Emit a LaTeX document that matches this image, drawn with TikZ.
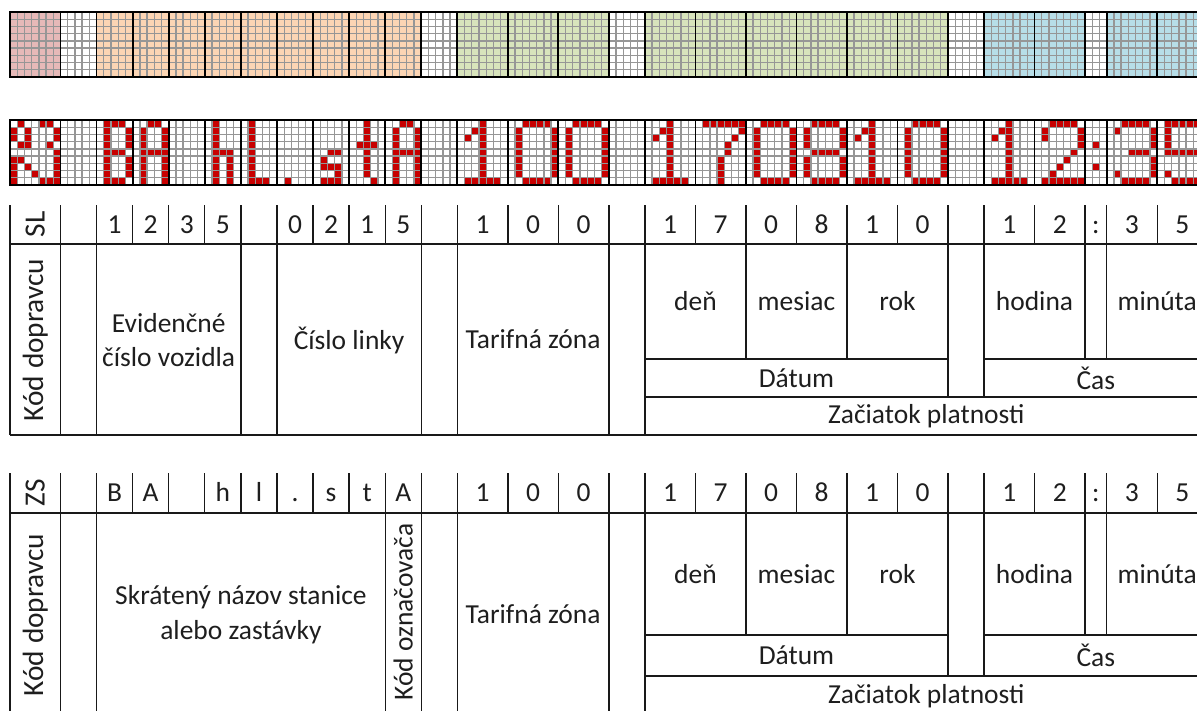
\documentclass[tikz,border=0pt]{standalone}
\usepackage{fontspec}
\setmainfont{Carlito}
\usepackage{tikz}
\definecolor{pinkFill}{RGB}{230,185,184}
\definecolor{orangeFill}{RGB}{252,213,180}
\definecolor{greenFill}{RGB}{216,228,188}
\definecolor{blueFill}{RGB}{183,222,232}
\definecolor{ledRed}{RGB}{200,0,0}
\definecolor{pixGray}{RGB}{150,150,150}
\definecolor{textGray}{RGB}{30,30,30}

\tikzset{
	pixLine/.style={draw=pixGray, line width=1pt},
	blockLine/.style={draw=black, line width=1.3pt},
	frameLine/.style={draw=black, line width=1.9pt},
	tableLine/.style={draw=black!90, line width=1pt},
	cellText/.style={font=\fontsize{20.6}{26}\selectfont, text=textGray, align=center, inner sep=0pt},
	headText/.style={cellText, text height=13pt, text depth=0pt},
	sideText/.style={font=\fontsize{22}{26}\selectfont, text=textGray, rotate=90, inner sep=0pt}
}

% Bloecke der Anzeige (Spaltenindex)
\def\blockCols{7,12,17,22,27,32,37,42,47,52,57,62,69,76,83,88,95,102,109,116,123,130,135,142,149,152,159}

% LED-Zeichen: je Zeile ein String, X = rotes Pixel, o = aus
\newcount\ledcol
\def\ledscan#1{%
	\ifx#1\relax\else
		\if#1X\fill[ledRed] (\the\ledcol,\ledrow) rectangle ++(1,1);\fi
		\advance\ledcol by 1
		\expandafter\ledscan
	\fi}
\newcommand\ledglyph[2]{%
	\foreach \bits [count=\rowIdx from 0] in #2 {%
		\ledcol=#1\relax
		\edef\ledrow{\rowIdx}%
		\expandafter\ledscan\bits\relax}}

\def\glyphKD{oXooXXo,XoXoooX,XoXoooX,oXXooXo,ooooooX,XXooooX,XoXoooX,XooXooX,XoooXXX}
\def\glyphB{oXXXo,oXooX,oXooX,oXooX,oXXXo,oXooX,oXooX,oXooX,oXXXo}
\def\glyphA{ooXXo,oXooX,oXooX,oXooX,oXXXX,oXooX,oXooX,oXooX,oXooX}
\def\glyphh{oXooo,oXooo,oXooo,oXooo,oXXXo,oXoXo,oXoXo,oXoXo,oXoXo}
\def\glyphl{oXooo,oXooo,oXooo,oXooo,oXooo,oXooo,oXooo,oXooo,oXXXo}
\def\glyphDot{ooooo,ooooo,ooooo,ooooo,ooooo,ooooo,ooooo,ooooo,oXooo}
\def\glyphs{ooooo,ooooo,ooooo,ooooo,ooXXo,oXooo,oXXXo,oooXo,oXXXo}
\def\glypht{ooXoo,ooXoo,ooXoo,oXXXo,ooXoo,ooXoo,ooXoo,ooXoo,oooXo}
\def\digitOne{oooXooo,ooXXooo,oXoXooo,oooXooo,oooXooo,oooXooo,oooXooo,oooXooo,oXXXXXo}
\def\digitZero{ooXXXXo,oXooooX,oXooooX,oXooooX,oXooooX,oXooooX,oXooooX,oXooooX,ooXXXXo}
\def\digitTwo{ooXXXXo,oXooooX,oXooooX,ooooooX,oooooXo,ooooXoo,oooXooo,ooXoooo,oXXXXXX}
\def\digitThree{ooXXXXo,oXooooX,ooooooX,ooooooX,oooXXXo,ooooooX,ooooooX,oXooooX,ooXXXXo}
\def\digitFive{oXXXXXX,oXooooo,oXooooo,oXooooo,oXXXXXo,ooooooX,ooooooX,oXooooX,ooXXXXo}
\def\digitSeven{oXXXXXX,ooooooX,oooooXo,ooooXoo,ooooXoo,oooXooo,oooXooo,oooXooo,oooXooo}
\def\digitEight{ooXXXXo,oXooooX,oXooooX,oXooooX,ooXXXXo,oXooooX,oXooooX,oXooooX,ooXXXXo}
\def\glyphColon{ooo,ooo,ooo,oXo,ooo,ooo,oXo,ooo,ooo}

% rechter Teil der Tabelle (Zone, Datum, Zeit): #1 Kopf, #2 Datum, #3 Beginn, #4 unten, #5 Kennung
\newcommand\dateTimeBody[5]{%
	\foreach \c in {83,88} \draw[tableLine] (\c,#1) -- (\c,#4);
	\foreach \c in {102,116,149,152} \draw[tableLine] (\c,#1) -- (\c,#2);
	\foreach \c in {130,135} \draw[tableLine] (\c,#1) -- (\c,#3);
	\draw[tableLine] (88,#2) -- (130,#2);
	\draw[tableLine] (135,#2) -- (166,#2);
	\draw[tableLine] (88,#3) -- (166,#3);
	\node[cellText] (zona#5) at (72.5,{(#1+#4)/2}) {Tarifná zóna};
	\node[cellText] (den#5) at (95,{(#1+#2)/2}) {deň};
	\node[cellText] (mesiac#5) at (109,{(#1+#2)/2}) {mesiac};
	\node[cellText] (rok#5) at (123,{(#1+#2)/2}) {rok};
	\node[cellText] (hodina#5) at (142,{(#1+#2)/2}) {hodina};
	\node[cellText] (minuta#5) at (159,{(#1+#2)/2}) {minúta};
	\node[cellText] (datum#5) at (109,{(#2+#3)/2}) {Dátum};
	\node[cellText] (cas#5) at (150.5,{(#2+#3)/2}) {Čas};
	\node[cellText] (zaciatok#5) at (127,{(#3+#4)/2}) {Začiatok platnosti};
}
% Kopfzeile rechts: #1 Mitte der Zeile, #2 Kennung
\newcommand\dateTimeHead[2]{%
	\foreach \c/\t [count=\i] in {65.5/1,72.5/0,79.5/0,91.5/1,98.5/7,105.5/0,112.5/8,119.5/1,126.5/0,138.5/1,145.5/2,150.5/:,155.5/3,162.5/5}
		\node[headText] (hd#2\i) at (\c,#1) {\t};
}

\begin{document}
\begin{tikzpicture}[x=0.75pt, y=-0.75pt]
	\useasboundingbox (0,0) rectangle (1197,711);
	\clip (0,0) rectangle (1197,711);

	% --- Belegung der Anzeige (farbig) ---
	\begin{scope}[shift={(10,12)}, x=5.41125pt, y=-5.41125pt]
		\fill[pinkFill] (0,0) rectangle (7,9);
		\fill[orangeFill] (12,0) rectangle (57,9);
		\fill[greenFill] (62,0) rectangle (83,9);
		\fill[greenFill] (88,0) rectangle (130,9);
		\fill[blueFill] (135,0) rectangle (149,9);
		\fill[blueFill] (152,0) rectangle (166,9);
		\foreach \c in {1,...,165} \draw[pixLine] (\c,0) -- (\c,9);
		\foreach \r in {1,...,8} \draw[pixLine] (0,\r) -- (166,\r);
		\foreach \c in \blockCols \draw[blockLine] (\c,0) -- (\c,9);
		\draw[frameLine] (0,0) rectangle (166,9);
	\end{scope}

	% --- Anzeige mit Text (rote Pixel) ---
	\begin{scope}[shift={(10,120)}, x=5.41125pt, y=-5.41125pt]
		\ledglyph{0}{\glyphKD}
		\ledglyph{12}{\glyphB}
		\ledglyph{17}{\glyphA}
		\ledglyph{27}{\glyphh}
		\ledglyph{32}{\glyphl}
		\ledglyph{37}{\glyphDot}
		\ledglyph{42}{\glyphs}
		\ledglyph{47}{\glypht}
		\ledglyph{52}{\glyphA}
		\ledglyph{62}{\digitOne}
		\ledglyph{69}{\digitZero}
		\ledglyph{76}{\digitZero}
		\ledglyph{88}{\digitOne}
		\ledglyph{95}{\digitSeven}
		\ledglyph{102}{\digitZero}
		\ledglyph{109}{\digitEight}
		\ledglyph{116}{\digitOne}
		\ledglyph{123}{\digitZero}
		\ledglyph{135}{\digitOne}
		\ledglyph{142}{\digitTwo}
		\ledglyph{149}{\glyphColon}
		\ledglyph{152}{\digitThree}
		\ledglyph{159}{\digitFive}
		\foreach \c in {1,...,165} \draw[pixLine] (\c,0) -- (\c,9);
		\foreach \r in {1,...,8} \draw[pixLine] (0,\r) -- (166,\r);
		\foreach \c in \blockCols \draw[blockLine] (\c,0) -- (\c,9);
		\draw[frameLine] (0,0) rectangle (166,9);
	\end{scope}

	% --- Tabelle SL ---
	\begin{scope}[shift={(10,0)}, x=5.41125pt]
		\foreach \c in {0,7,12,17,22,27,32,37,42,47,52,57,62,69,76,83,88,95,102,109,116,123,130,135,142,149,152,159}
			\draw[tableLine] (\c,205) -- (\c,244);
		\draw[tableLine] (0,244) -- (166,244);
		\draw[tableLine] (0,435) -- (166,435);
		\foreach \c in {0,7,12,32,37,57,62} \draw[tableLine] (\c,244) -- (\c,435);
		\dateTimeBody{244}{359}{397}{435}{A}

		\node[sideText] (slHead) at (3.5,224.5) {SL};
		\foreach \c/\t [count=\i] in {14.5/1,19.5/2,24.5/3,29.5/5,39.5/0,44.5/2,49.5/1,54.5/5}
			\node[headText] (snA\i) at (\c,224.5) {\t};
		\dateTimeHead{224.5}{A}

		\node[sideText] (kodA) at (3.5,340) {Kód dopravcu};
		\node[cellText] (evidA) at (22,340) {Evidenčné\\číslo vozidla};
		\node[cellText] (linkaA) at (47,340) {Číslo linky};
	\end{scope}

	% --- Tabelle ZS ---
	\begin{scope}[shift={(10,0)}, x=5.41125pt]
		\foreach \c in {0,7,12,17,22,27,32,37,42,47,52,57,62,69,76,83,88,95,102,109,116,123,130,135,142,149,152,159}
			\draw[tableLine] (\c,473) -- (\c,513);
		\draw[tableLine] (0,513) -- (166,513);
		\draw[tableLine] (0,716) -- (166,716);
		\foreach \c in {0,7,12,52,57,62} \draw[tableLine] (\c,513) -- (\c,716);
		\dateTimeBody{513}{635}{676}{716}{B}

		\node[sideText] (zsHead) at (3.5,493) {ZS};
		\foreach \c/\t [count=\i] in {14.5/B,19.5/A,29.5/h,34.5/l,39.5/.,44.5/s,49.5/t,54.5/A}
			\node[headText] (snB\i) at (\c,493) {\t};
		\dateTimeHead{493}{B}

		\node[sideText] (kodB) at (3.5,615) {Kód dopravcu};
		\node[cellText] (nazovB) at (32,614.5) {Skrátený názov stanice\\alebo zastávky};
		\node[sideText, font=\fontsize{20.6}{24}\selectfont] (oznacB) at (54.5,612) {Kód označovača};
	\end{scope}
\end{tikzpicture}
\end{document}
